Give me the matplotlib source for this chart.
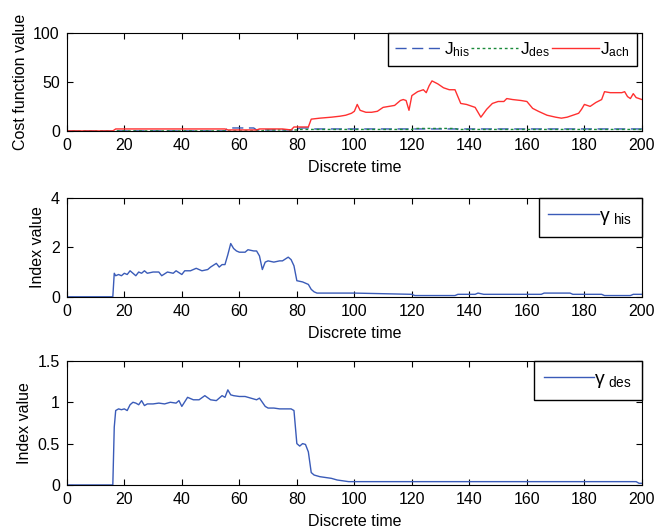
import numpy as np
import matplotlib
matplotlib.use("Agg")
import matplotlib.pyplot as plt

plt.rcParams['font.family'] = ['Liberation Sans', 'DejaVu Sans']
plt.rcParams['font.size'] = 11.5
plt.rcParams['mathtext.fontset'] = 'custom'
plt.rcParams['mathtext.rm'] = 'Liberation Sans'

# cost functions
t_jhis = [0, 55, 56, 65, 66, 80, 81, 84, 85, 200]
j_his = [0, 0, 3, 3, 1, 1, 3, 3, 2, 2]
t_jdes = [0, 68, 69, 80, 81, 120, 121, 135, 136, 200]
j_des = [0, 0, 1, 1, 1.5, 1.5, 2.5, 2.5, 1.5, 1.5]
t_ach = [0, 16, 17, 55, 56, 66, 67, 75, 78, 79,
         84, 85, 88, 92, 95, 97, 99, 100, 101, 102,
         104, 106, 108, 110, 112, 114, 116, 117, 118, 119,
         120, 122, 124, 125, 126, 127, 129, 131, 133, 135,
         136, 137, 139, 141, 142, 144, 146, 148, 150, 152,
         153, 155, 158, 160, 162, 164, 167, 170, 172, 174,
         176, 178, 179, 180, 182, 184, 186, 187, 189, 191,
         193, 194, 195, 196, 197, 198, 200]
j_ach = [0, 0, 2, 2, 1, 1, 2, 2, 1, 4,
         4, 12, 13, 14, 15, 16, 18, 20, 27, 21,
         19, 19, 20, 24, 25, 26, 31, 32, 31, 21,
         36, 40, 42, 39, 46, 51, 48, 44, 42, 42,
         35, 28, 27, 25, 24, 14, 22, 28, 30, 30,
         33, 32, 31, 30, 23, 20, 16, 14, 13, 14,
         16, 18, 22, 27, 25, 29, 32, 40, 39, 39,
         39, 40, 35, 33, 38, 34, 32]

# historical index
t_his = [0, 16, 16.5, 17, 18, 19, 20, 21, 22, 23,
         24, 25, 26, 27, 28, 30, 32, 33, 35, 37,
         38, 40, 41, 43, 45, 47, 49, 50, 52, 53,
         54, 55, 56, 57, 58, 59, 60, 62, 63, 65,
         66, 67, 68, 69, 70, 72, 74, 75, 77, 78,
         79, 80, 82, 83, 84, 85, 86, 87, 100, 120,
         121, 135, 136, 142, 143, 145, 165, 166, 175, 176,
         186, 187, 196, 197, 200]
g_his = [0, 0, 0.95, 0.85, 0.9, 0.85, 0.95, 0.9, 1.05, 0.95,
         0.85, 1.0, 0.95, 1.05, 0.95, 1.0, 1.0, 0.85, 1.0, 0.95,
         1.05, 0.9, 1.05, 1.05, 1.15, 1.05, 1.1, 1.2, 1.35, 1.2,
         1.3, 1.3, 1.7, 2.15, 1.95, 1.85, 1.8, 1.8, 1.9, 1.85,
         1.85, 1.65, 1.1, 1.4, 1.45, 1.4, 1.45, 1.45, 1.6, 1.5,
         1.25, 0.65, 0.6, 0.55, 0.5, 0.3, 0.2, 0.15, 0.15, 0.1,
         0.05, 0.05, 0.1, 0.1, 0.15, 0.1, 0.1, 0.15, 0.15, 0.1,
         0.1, 0.05, 0.05, 0.1, 0.1]

# desired index
t_des = [0, 16, 16.5, 17, 18, 19, 20, 21, 22, 23,
         24, 25, 26, 27, 28, 30, 32, 34, 36, 38,
         39, 40, 42, 44, 46, 48, 50, 52, 54, 55,
         56, 57, 58, 60, 62, 64, 66, 67, 69, 70,
         72, 74, 76, 78, 79, 80, 81, 82, 83, 84,
         85, 86, 88, 90, 92, 94, 96, 98, 100, 198,
         199, 200]
g_des = [0, 0, 0.7, 0.9, 0.92, 0.91, 0.92, 0.9, 0.97, 1.0,
         0.99, 0.97, 1.02, 0.96, 0.98, 0.98, 0.99, 0.98, 1.0, 0.99,
         1.02, 0.95, 1.06, 1.03, 1.03, 1.08, 1.03, 1.02, 1.08, 1.06,
         1.15, 1.09, 1.08, 1.07, 1.07, 1.05, 1.03, 1.05, 0.95, 0.93,
         0.93, 0.92, 0.92, 0.92, 0.9, 0.5, 0.47, 0.5, 0.49, 0.4,
         0.15, 0.12, 0.1, 0.09, 0.08, 0.06, 0.05, 0.04, 0.04, 0.04,
         0.02, 0.02]

xticks = np.arange(0, 201, 20)
blue = '#3a5bb8'

fig = plt.figure(figsize=(6.55, 5.30), dpi=100)
ax1 = fig.add_axes([0.102, 0.753, 0.878, 0.185])
ax2 = fig.add_axes([0.102, 0.440, 0.878, 0.187])
ax3 = fig.add_axes([0.102, 0.085, 0.878, 0.234])

ax1.plot(t_jhis, j_his, color=blue, ls=(0, (8, 4)), lw=1, label=r'$\mathregular{J_{his}}$')
ax1.plot(t_jdes, j_des, color='#1a8a3a', ls=(0, (2, 2)), lw=1, label=r'$\mathregular{J_{des}}$')
ax1.plot(t_ach, j_ach, color='#ff3030', lw=1, label=r'$\mathregular{J_{ach}}$')
ax1.set_ylim(0, 100)
ax1.set_yticks([0, 50, 100])
ax1.set_ylabel('Cost function value')
# legend sticks out past the right spine
ax1.legend(loc='upper left', bbox_to_anchor=(0.558, 1.0), ncol=3, frameon=True,
           fancybox=False, edgecolor='black', borderaxespad=0, handlelength=2.7,
           handletextpad=0.1, columnspacing=0.1, borderpad=0.42, framealpha=1,
           fontsize=12.5)

ax2.plot(t_his, g_his, color=blue, lw=1, label='γ' + r'$_{\ \mathregular{his}}$')
ax2.set_ylim(0, 4)
ax2.set_yticks([0, 2, 4])
ax2.set_ylabel('Index value')

ax3.plot(t_des, g_des, color=blue, lw=1, label='γ' + r'$_{\ \mathregular{des}}$')
ax3.set_ylim(0, 1.5)
ax3.set_yticks([0, 0.5, 1, 1.5])
ax3.set_yticklabels(['0', '0.5', '1', '1.5'])
ax3.set_ylabel('Index value')

for ax in (ax2, ax3):
    ax.legend(loc='upper right', frameon=True, fancybox=False, edgecolor='black',
              borderaxespad=0, handlelength=2.6, handletextpad=0.0, borderpad=0.5,
              framealpha=1, fontsize=14)

for ax in (ax1, ax2, ax3):
    ax.set_xlim(0, 200)
    ax.set_xticks(xticks)
    ax.set_xlabel('Discrete time', labelpad=5)
    ax.tick_params(direction='in', top=True, right=True, length=4, width=0.8, pad=5)
    for s in ax.spines.values():
        s.set_linewidth(0.8)

fig.savefig('out.png', dpi=100)
